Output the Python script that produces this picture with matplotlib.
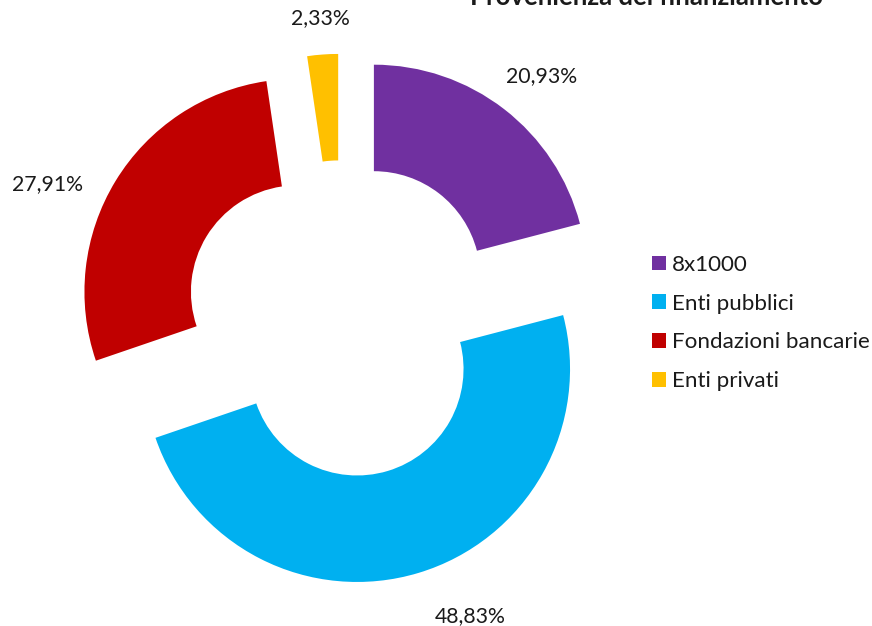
import matplotlib.pyplot as plt
from matplotlib.patches import Patch

# dati
categorie = ['8x1000', 'Enti pubblici', 'Fondazioni bancarie', 'Enti privati']
valori = [20.93, 48.83, 27.91, 2.33]
colori = ['#7030A0', '#00B0F0', '#C00000', '#FFC000']
titolo = 'Provenienza del finanziamento'

plt.rcParams['font.family'] = ['Lato', 'DejaVu Sans']

W, H = 872, 626
R = 213.0                 # raggio esterno in pixel
cx, cy = 342.0, 319.0     # centro della ciambella (pixel, y dall'alto)

fig = plt.figure(figsize=(W / 100, H / 100), dpi=100)
ax = fig.add_axes([0, 0, 1, 1])

wedges, texts = ax.pie(
    valori,
    colors=colori,
    startangle=90,
    counterclock=False,
    explode=[0.245] * len(valori),
    radius=1.0,
    wedgeprops=dict(width=0.5, linewidth=0),
    labels=[f'{v:.2f}'.replace('.', ',') + '%' for v in valori],
    labeldistance=1.24,
    textprops=dict(fontsize=15.3, color='#1a1a1a'),
)
for t in texts:
    t.set_ha('center')
    t.set_va('center')

# piccoli spostamenti delle etichette (pixel, y verso il basso) come in Excel
spost = [(6, 7), (37, -6), (-24, 30), (2, 15)]
for t, (dx, dy) in zip(texts, spost):
    x, y = t.get_position()
    t.set_position((x + dx / R, y - dy / R))

ax.set_xlim(-cx / R, (W - cx) / R)
ax.set_ylim(-(H - cy) / R, cy / R)
ax.set_aspect('equal', adjustable='box')
ax.axis('off')

fig.text(646 / W, 1 - 5 / H, titolo, ha='center', va='baseline',
         fontsize=18.5, fontweight='bold', color='#1a1a1a')

handles = [Patch(facecolor=c, edgecolor='none') for c in colori]
fig.legend(handles, categorie, loc='center left',
           bbox_to_anchor=(652 / W, 1 - 323 / H), frameon=False,
           fontsize=16.1, handlelength=0.63, handleheight=0.63,
           handletextpad=0.27, labelspacing=0.84, borderpad=0,
           borderaxespad=0, labelcolor='#1a1a1a')

fig.savefig('out.png', dpi=100)
